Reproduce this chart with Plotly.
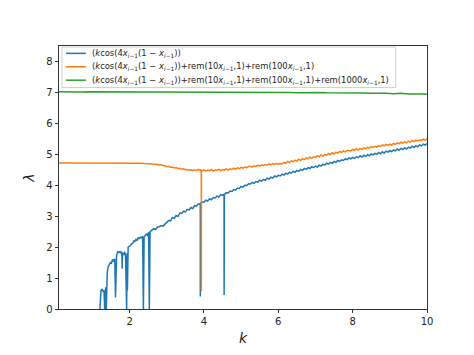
import numpy as np
import plotly.graph_objects as go

# ---------------- data ----------------
SUB = "<i>x</i><sub><i>i</i>−1</sub>"
legend_labels = [
    "(<i>k</i>cos(4" + SUB + "(1 − " + SUB + "))",
    "(<i>k</i>cos(4" + SUB + "(1 − " + SUB + "))+rem(10" + SUB + ",1)+rem(100" + SUB + ",1)",
    "(<i>k</i>cos(4" + SUB + "(1 − " + SUB + "))+rem(10" + SUB + ",1)+rem(100" + SUB + ",1)+rem(1000" + SUB + ",1)",
]

# blue: irregular start region (k, lambda)
blue_early_k = [1.20, 1.21, 1.23, 1.26, 1.29, 1.31, 1.32, 1.33, 1.34, 1.36,
                1.37, 1.38, 1.40, 1.42, 1.45, 1.48, 1.51, 1.54, 1.57, 1.60,
                1.62, 1.63, 1.65, 1.68, 1.71, 1.74, 1.77, 1.79, 1.80, 1.81,
                1.84, 1.87, 1.89, 1.90, 1.91, 1.92, 1.93, 1.94, 1.96, 1.99,
                2.02, 2.05, 2.08, 2.11, 2.14, 2.17, 2.20, 2.23, 2.26, 2.29,
                2.32, 2.35, 2.37, 2.39, 2.42, 2.45, 2.48, 2.51, 2.53, 2.55]
blue_early_v = [0.0, 0.4, 0.6, 0.65, 0.55, 0.6, 0.3, 0.0, 0.5, 0.7,
                0.0, 0.75, 1.2, 1.35, 1.42, 1.5, 1.48, 1.6, 1.55, 1.62,
                0.37, 1.6, 1.75, 1.85, 1.82, 1.86, 1.8, 1.85, 1.3, 1.8,
                1.75, 1.85, 1.7, 0.6, 1.7, 0.0, 1.8, 0.6, 2.0, 2.02,
                2.05, 2.1, 2.12, 2.2, 2.18, 2.25, 2.22, 2.3, 2.28, 2.32,
                2.3, 2.35, 0.0, 2.33, 2.4, 2.42, 2.38, 2.48, 0.0, 2.5]

# blue: k = 2.60 ... 10.00, step 0.05
blue_grid_start, blue_grid_step = 2.60, 0.05
blue_grid_v = [
    2.55, 2.60, 2.57, 2.65, 2.66, 2.70, 2.68, 2.76, 2.80,
    2.86, 2.85, 2.95, 2.93, 3.02, 2.99, 3.10,
    3.09, 3.16, 3.14, 3.22, 3.20, 3.28, 3.25, 3.34, 3.33, 3.40, 3.38,
    3.46, 3.45, 3.52, 3.49, 3.56, 3.53, 3.60, 3.59, 3.65, 3.62, 3.70, 3.68,
    3.70, 3.76, 3.75, 3.81, 3.80, 3.86, 3.84, 3.91, 3.89, 3.96, 3.94, 4.00, 3.99, 4.05, 4.04,
    4.09, 4.06, 4.12, 4.10, 4.16, 4.13, 4.19, 4.16, 4.23, 4.20, 4.26, 4.23, 4.30, 4.27, 4.32,
    4.30, 4.36, 4.33, 4.39, 4.36, 4.42, 4.39, 4.45, 4.42, 4.48, 4.45, 4.51, 4.48, 4.54, 4.51, 4.57, 4.54, 4.60, 4.57, 4.62,
    4.59, 4.65, 4.62, 4.68, 4.65, 4.71, 4.68, 4.74, 4.71, 4.77, 4.74, 4.80, 4.77, 4.82, 4.80, 4.85, 4.83, 4.88, 4.85, 4.90,
    4.87, 4.92, 4.89, 4.95, 4.91, 4.97, 4.93, 4.99, 4.95, 5.01, 4.98, 5.03, 5.00, 5.06, 5.02, 5.08, 5.04, 5.10, 5.07, 5.12,
    5.09, 5.14, 5.11, 5.17, 5.13, 5.19, 5.15, 5.21, 5.17, 5.23, 5.20, 5.26, 5.22, 5.28, 5.24, 5.30, 5.27, 5.33, 5.30, 5.35,
]
# blue: sharp drops
blue_dip_k = [3.901, 3.902, 3.904, 4.540, 4.542, 4.544]
blue_dip_v = [3.40, 0.40, 3.42, 3.71, 0.45, 3.71]

# orange: k = 0.1 ... 2.5, step 0.1
orange_flat_start, orange_flat_step = 0.10, 0.10
orange_flat_v = [4.72, 4.72, 4.73, 4.72, 4.72, 4.73, 4.72, 4.72, 4.72, 4.73,
                 4.72, 4.72, 4.71, 4.72, 4.72, 4.71, 4.72, 4.71, 4.72, 4.71,
                 4.71, 4.71, 4.71, 4.70, 4.70]
# orange: k = 2.55 ... 10.00, step 0.05
orange_grid_start, orange_grid_step = 2.55, 0.05
orange_grid_v = [
    4.70, 4.69, 4.69, 4.67, 4.68, 4.65, 4.66, 4.63, 4.63, 4.60, 4.61, 4.58, 4.59, 4.56,
    4.57, 4.54, 4.55, 4.52, 4.53, 4.50, 4.51, 4.49, 4.50, 4.47, 4.50, 4.48, 4.51, 4.48,
    4.47, 4.50, 4.46, 4.49, 4.47, 4.51, 4.46, 4.50, 4.48, 4.52, 4.47, 4.51, 4.49, 4.53,
    4.49, 4.53, 4.51, 4.55, 4.52, 4.56, 4.54, 4.58, 4.55, 4.59, 4.57, 4.61, 4.60,
    4.59, 4.63, 4.61, 4.65, 4.62, 4.66, 4.63, 4.67, 4.65, 4.69, 4.66, 4.70, 4.67, 4.71, 4.68, 4.70,
    4.69, 4.74, 4.71, 4.77, 4.73, 4.79, 4.76, 4.81, 4.78, 4.84, 4.80, 4.86, 4.83, 4.88, 4.85, 4.91,
    4.87, 4.92, 4.90, 4.95, 4.92, 4.98, 4.94, 4.99, 4.97, 5.02, 4.99, 5.05, 5.01, 5.07, 5.04, 5.09,
    5.06, 5.11, 5.08, 5.13, 5.11,
    5.11, 5.16, 5.13, 5.18, 5.14, 5.19, 5.16, 5.21, 5.18, 5.23, 5.20, 5.25, 5.22, 5.26, 5.23, 5.28,
    5.25, 5.30, 5.27, 5.32, 5.29, 5.33, 5.30, 5.35, 5.32, 5.37, 5.34, 5.39, 5.36, 5.40, 5.37, 5.42,
    5.39, 5.44, 5.41, 5.46, 5.43, 5.47, 5.44, 5.49, 5.46, 5.50,
]
orange_dip_k = [3.928, 3.930, 3.932]
orange_dip_v = [4.50, 0.57, 4.49]

# green: k = 0.1 ... 9.9 step 0.2, then 10.0
green_k_end = 10.0
green_start, green_step = 0.10, 0.20
green_v = [7.02, 7.01, 7.02, 7.01, 7.02, 7.02, 7.01, 7.02, 7.01, 7.02,
           7.01, 7.02, 7.01, 7.01, 7.02, 7.01, 7.02, 7.01, 7.01, 7.02,
           7.01, 7.00, 7.01, 7.01, 7.00, 7.01, 7.00, 7.01, 7.00, 7.00,
           7.01, 7.00, 6.99, 7.00, 6.99, 7.00, 6.99, 6.99, 7.00, 6.98,
           6.99, 6.98, 6.97, 6.98, 6.97, 6.96, 6.97, 6.95, 6.96, 6.95]
green_end_v = 6.94

x_ticks = [2, 4, 6, 8, 10]
y_ticks = [0, 1, 2, 3, 4, 5, 6, 7, 8]


# ---------------- assemble series ----------------
def grid(start, step, n):
    return list(np.round(start + step * np.arange(n), 4))


def merge(ks, vs):
    ks = np.array(ks, dtype=float)
    vs = np.array(vs, dtype=float)
    order = np.argsort(ks, kind="stable")
    return ks[order], vs[order]


bk, bv = merge(blue_early_k + grid(blue_grid_start, blue_grid_step, len(blue_grid_v)) + blue_dip_k,
               blue_early_v + blue_grid_v + blue_dip_v)
ok, ov = merge(grid(orange_flat_start, orange_flat_step, len(orange_flat_v))
               + grid(orange_grid_start, orange_grid_step, len(orange_grid_v)) + orange_dip_k,
               orange_flat_v + orange_grid_v + orange_dip_v)
gk, gv = merge(grid(green_start, green_step, len(green_v)) + [green_k_end],
               green_v + [green_end_v])

colors = ["#1f77b4", "#ff7f0e", "#2ca02c"]

fig = go.Figure()
for (kx, vy), name, c in zip([(bk, bv), (ok, ov), (gk, gv)], legend_labels, colors):
    fig.add_trace(go.Scatter(x=kx, y=vy, mode="lines", name=name, showlegend=False,
                             line=dict(color=c, width=1.5)))

# ---- matplotlib-like legend box (drawn in paper coordinates) ----
lg_x0, lg_x1, lg_y0, lg_y1 = 0.008, 0.915, 0.842, 0.996
row_y = [0.972, 0.921, 0.870]
fig.add_shape(type="rect", xref="paper", yref="paper",
              x0=lg_x0, x1=lg_x1, y0=lg_y0, y1=lg_y1,
              line=dict(color="#d0d0d0", width=1), fillcolor="rgba(255,255,255,0.8)",
              layer="above")
for yy, name, c in zip(row_y, legend_labels, colors):
    fig.add_shape(type="line", xref="paper", yref="paper",
                  x0=0.019, x1=0.073, y0=yy, y1=yy,
                  line=dict(color=c, width=1.5), layer="above")
    fig.add_annotation(xref="paper", yref="paper", x=0.083, y=yy,
                       xanchor="left", yanchor="middle", showarrow=False,
                       text=name, font=dict(family="DejaVu Sans", size=8.4, color="#222"))

axis_common = dict(
    showline=True, linecolor="#333", linewidth=0.9, mirror=True,
    ticks="outside", ticklen=3.5, tickwidth=0.8, tickcolor="#333",
    showgrid=False, zeroline=False,
    tickfont=dict(family="DejaVu Sans", size=10, color="#222"),
)

fig.update_layout(
    width=474, height=355,
    margin=dict(l=59, r=47, t=46, b=44),
    paper_bgcolor="white", plot_bgcolor="white",
    font=dict(family="DejaVu Sans", color="#222"),
    showlegend=False,
    xaxis=dict(range=[0.1, 10], tickvals=x_ticks, **axis_common,
               title=dict(text="<i>k</i>", font=dict(family="DejaVu Sans", size=14, color="#222"),
                          standoff=6)),
    yaxis=dict(range=[0, 8.5], tickvals=y_ticks, **axis_common,
               title=dict(text="<i>λ</i>", font=dict(family="DejaVu Sans", size=14, color="#222"),
                          standoff=8)),
)

fig.write_html("out.html")
